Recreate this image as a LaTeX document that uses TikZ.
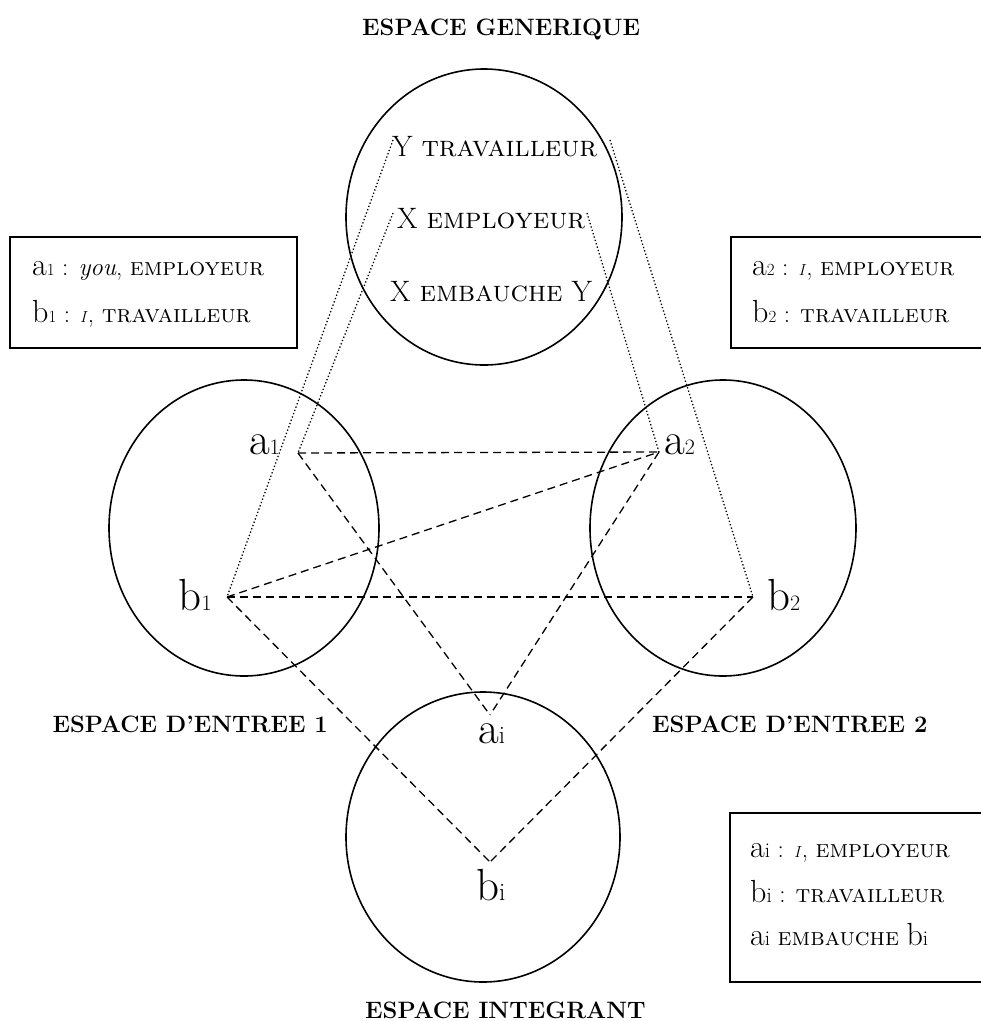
\documentclass[tikz,border=0pt]{standalone}
\usepackage{xcolor}
\usepackage{tikz}
\usetikzlibrary{positioning}

% element label: letter, index, letter size, index size
\newcommand{\elt}[4]{{\fontsize{#3}{#3}\selectfont #1}{\fontsize{#4}{#4}\selectfont #2}}
\newcommand{\rest}[1]{{\fontsize{25}{25}\selectfont #1}}
\newcommand{\smallI}{{\fontsize{16}{16}\selectfont\textit{I}}}

\begin{document}
\begin{tikzpicture}[x=1pt, y=-1pt,
  spacecircle/.style={line width=1.6pt},
  link/.style={dash pattern=on 8pt off 5pt, line width=1.3pt},
  proj/.style={dash pattern=on 1.3pt off 2.2pt, line width=1.3pt},
  title/.style={font=\fontsize{23.7}{24}\selectfont\bfseries, inner sep=0pt},
  role/.style={font=\fontsize{29.5}{30}\selectfont, inner sep=0pt, anchor=base west},
  elem/.style={inner sep=0pt},
  infobox/.style={line width=1.3pt},
  boxline/.style={inner sep=0pt, anchor=base west}]
\useasboundingbox (0,0) rectangle (981,1021);

% Generic space
\draw[spacecircle] (484,217) ellipse [x radius=138pt, y radius=148pt];
\node[title, anchor=base west] (gen) at (362,35) {ESPACE GENERIQUE};
\node[role] (ytrav) at (392,156) {Y \textsc{travailleur}};
\node[role] (xemp) at (397,228) {X \textsc{employeur}};
\node[role] (xemb) at (390,301) {X \textsc{embauche} Y};
\coordinate (yL) at (393,140);
\coordinate (yR) at (610,140);
\coordinate (xL) at (393,213);
\coordinate (xR) at (587,213);

% Input spaces
\draw[spacecircle] (244,528) ellipse [x radius=135pt, y radius=148pt];
\draw[spacecircle] (723,528) ellipse [x radius=133pt, y radius=148pt];
\node[title, anchor=base east] (in1) at (328,732) {ESPACE D'ENTREE 1};
\node[title, anchor=base west] (in2) at (652,732) {ESPACE D'ENTREE 2};

% Blend
\draw[spacecircle] (483,837) ellipse [x radius=137pt, y radius=145pt];
\node[title, anchor=base west] (blend) at (365,1018) {ESPACE INTEGRANT};

% elements
\coordinate (a1) at (298,453);
\coordinate (b1) at (227,597);
\coordinate (a2) at (659,452);
\coordinate (b2) at (753,597);
\coordinate (ai) at (490,715);
\coordinate (bi) at (490,862);
\node[elem, anchor=base east] (la1) at (280,454) {\elt{a}{1}{45}{22}};
\node[elem, anchor=base east] (lb1) at (212,610) {\elt{b}{1}{45}{22}};
\node[elem, anchor=base west] (la2) at (664,454) {\elt{a}{2}{45}{22}};
\node[elem, anchor=base west] (lb2) at (767,610) {\elt{b}{2}{45}{22}};
\node[elem, anchor=base west] (lai) at (478,743) {\elt{a}{i}{45}{25}};
\node[elem, anchor=base west] (lbi) at (476,900) {\elt{b}{i}{45}{25}};

% mappings
\foreach \p/\q in {a1/a2, b1/b2, b1/a2, a1/ai, a2/ai, b1/bi, b2/bi}
    \draw[link] (\p) -- (\q);
\foreach \p/\q in {yL/b1, xL/a1, xR/a2, yR/b2}
    \draw[proj] (\p) -- (\q);

% boxes
\draw[infobox] (10,237) rectangle (297,348);
\node[boxline] (t1a) at (32,275) {\elt{a}{1}{32}{17}\rest{ : \textit{you}, \textsc{employeur}}};
\node[boxline] (t1b) at (32,322) {\elt{b}{1}{32}{17}\rest{ : \smallI, \textsc{travailleur}}};

\draw[infobox] (731,237) rectangle (990,348);
\node[boxline] (t2a) at (752,275) {\elt{a}{2}{32}{17}\rest{ : \smallI, \textsc{employeur}}};
\node[boxline] (t2b) at (752,322) {\elt{b}{2}{32}{17}\rest{ : \textsc{travailleur}}};

\draw[infobox] (730,813) rectangle (990,982);
\node[boxline] (tia) at (750,857) {\elt{a}{i}{32}{21}\rest{ : \smallI, \textsc{employeur}}};
\node[boxline] (tib) at (750,902) {\elt{b}{i}{32}{21}\rest{ : \textsc{travailleur}}};
\node[boxline] (tic) at (750,945) {\elt{a}{i}{32}{21}\rest{ \textsc{embauche} }\elt{b}{i}{32}{21}};
\end{tikzpicture}
\end{document}
